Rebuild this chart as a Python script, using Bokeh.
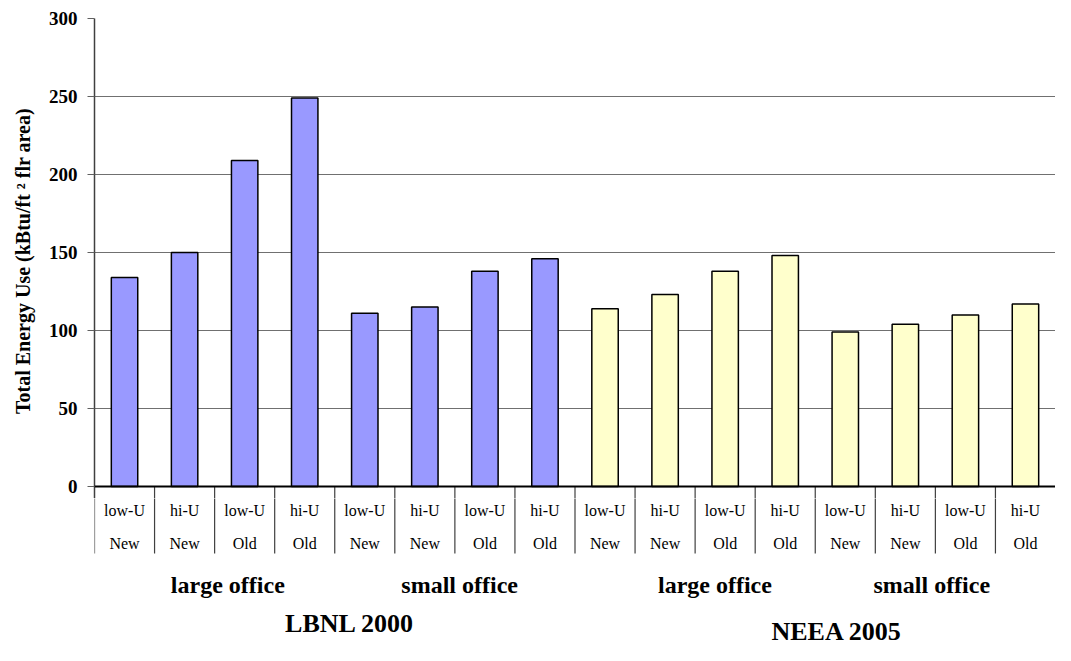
from bokeh.plotting import figure
from bokeh.models import ColumnDataSource, FixedTicker, Range1d, Span
from bokeh.layouts import column
from bokeh.core.properties import value
from bokeh.embed import file_html
from bokeh.resources import INLINE

# ---- data ----
u_labels = ["low-U", "hi-U", "low-U", "hi-U", "low-U", "hi-U", "low-U", "hi-U",
            "low-U", "hi-U", "low-U", "hi-U", "low-U", "hi-U", "low-U", "hi-U"]
age_labels = ["New", "New", "Old", "Old", "New", "New", "Old", "Old",
              "New", "New", "Old", "Old", "New", "New", "Old", "Old"]
office_labels = ["large office", "small office", "large office", "small office"]
study_labels = ["LBNL 2000", "NEEA 2005"]
energy_use = [134, 150, 209, 249, 111, 115, 138, 146,
              114, 123, 138, 148, 99, 104, 110, 117]
bar_colors = ["#9999FF"] * 8 + ["#FFFFCC"] * 8
y_ticks = [0, 50, 100, 150, 200, 250, 300]

n = len(energy_use)
xs = list(range(1, n + 1))
FONT = "Liberation Serif"
W = 1055
LEFT = 94
PX_PER_UNIT = 468 / 300.0
EXTRA = 12  # px of frame below the zero line (room for the "0" label)

# ---------------- main chart ----------------
p = figure(width=W, height=18 + 468 + EXTRA, output_backend="svg",
           toolbar_location=None,
           x_range=Range1d(0.5, n + 0.5),
           y_range=Range1d(-EXTRA / PX_PER_UNIT, 300),
           min_border_left=LEFT, min_border_right=0, min_border_top=18,
           min_border_bottom=0)
p.outline_line_color = None

src = ColumnDataSource(dict(x=xs, top=energy_use, color=bar_colors))
p.vbar(x="x", top="top", bottom=0, width=0.44, source=src,
       fill_color="color", line_color="black", line_width=1.5)

boundaries = [i + 0.5 for i in range(n)]
p.segment(x0=boundaries[1:], y0=[0] * (n - 1), x1=boundaries[1:],
          y1=[-20] * (n - 1), line_color="#404040", line_width=1.2)

p.xaxis.visible = False
p.add_layout(Span(location=0, dimension="width", line_color="black",
                  line_width=2))

p.yaxis.ticker = FixedTicker(ticks=y_ticks)
p.yaxis.major_label_text_font = FONT
p.yaxis.major_label_text_font_style = "bold"
p.yaxis.major_label_text_font_size = "19px"
p.yaxis.major_label_text_color = "black"
p.yaxis.major_tick_out = 7
p.yaxis.major_tick_in = 0
p.yaxis.minor_tick_line_color = None
p.yaxis.axis_line_color = "#404040"
p.yaxis.axis_line_width = 1.5
p.yaxis.major_tick_line_color = "#606060"
p.yaxis.major_label_standoff = 10
p.yaxis.axis_label = "Total Energy Use (kBtu/ft  ² flr area)"
p.yaxis.axis_label_text_font = FONT
p.yaxis.axis_label_text_font_style = "bold"
p.yaxis.axis_label_text_font_size = "20px"
p.yaxis.axis_label_text_color = "black"
p.yaxis.axis_label_standoff = 12

p.ygrid.grid_line_color = "#707070"
p.ygrid.grid_line_width = 1
p.xgrid.grid_line_color = None

# ---------------- category-label strip ----------------
H2 = 645 - (18 + 468 + EXTRA)
q = figure(width=W, height=H2, output_backend="svg", toolbar_location=None,
           x_range=p.x_range, y_range=Range1d(EXTRA + H2, EXTRA),
           min_border_left=LEFT, min_border_right=0, min_border_top=0,
           min_border_bottom=0)
q.outline_line_color = None
q.axis.visible = False
q.grid.visible = False

q.segment(x0=boundaries, y0=[0] * n, x1=boundaries, y1=[67] * n,
          line_color="#404040", line_width=1.2)

q.text(x=xs, y=[24] * n, text=u_labels, text_font=value(FONT),
       text_font_size="16px", text_align="center", text_baseline="middle",
       text_color="black")
q.text(x=xs, y=[57] * n, text=age_labels, text_font=value(FONT),
       text_font_size="16px", text_align="center", text_baseline="middle",
       text_color="black")

office_x = [2.72, 6.58, 10.83, 14.44]
q.text(x=office_x, y=[98] * 4, text=office_labels, text_font=value(FONT),
       text_font_size="24px", text_font_style="bold", text_align="center",
       text_baseline="middle", text_color="black")

study_x = [4.75, 12.86]
study_y = [137, 145]
q.text(x=study_x, y=study_y, text=study_labels, text_font=value(FONT),
       text_font_size="26px", text_font_style="bold", text_align="center",
       text_baseline="middle", text_color="black")

layout = column(p, q, spacing=0)
open("out.html", "w").write(file_html(layout, INLINE))
